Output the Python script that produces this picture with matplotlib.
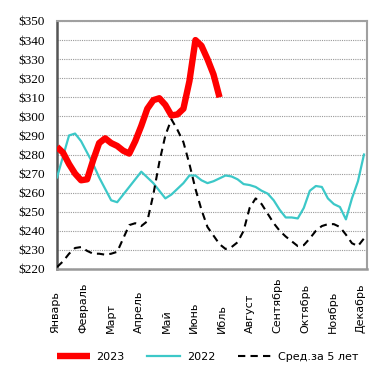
import numpy as np
import matplotlib
matplotlib.use('Agg')
import matplotlib.pyplot as plt
import matplotlib.transforms as mtransforms

# недели года (0..51)
weeks = np.arange(52)

# 2023 - до июля
y2023 = [284, 281, 275, 270, 266.5, 267, 277, 286, 288.5, 286,
         284.5, 282, 280.5, 287, 295, 304, 308.5, 309.5, 306, 300.5,
         301, 304, 318.5, 340, 337, 330, 322, 310]

y2022 = [268, 279, 290, 291, 287, 281, 275, 268, 262, 256,
         255, 259, 263, 267, 271, 268, 265, 261, 257, 259,
         262, 265, 269, 269, 266.5, 265, 266, 267.5, 269, 268.5,
         267, 264.5, 264, 263, 261, 259.5, 256, 251, 247, 247,
         246.5, 252, 261, 263.5, 263, 257, 254, 252.5, 246, 257,
         266, 280]

avg5 = [221, 224, 228, 231, 231.5, 229.5, 228, 228, 227.5, 228,
        229, 236, 243, 244, 242.5, 245, 259, 276, 290, 298.5,
        293, 286.5, 275, 262, 251, 242, 237.5, 233, 230.5, 231.5,
        234, 240, 252, 257, 254, 249, 244, 240, 237, 234.5,
        232, 232.5, 236, 240, 242.5, 243.5, 243.5, 242, 238, 233.5,
        232, 236]

months = ['Январь', 'Февраль', 'Март', 'Апрель', 'Май', 'Июнь',
          'Ибль', 'Август', 'Сентябрь', 'Октябрь', 'Ноябрь', 'Декабрь']
yticks = list(range(220, 351, 10))

fig = plt.figure(figsize=(3.91, 3.83), dpi=100)
ax = fig.add_axes([0.1458, 0.2977, 0.7928, 0.6475])

ax.plot(weeks[:len(y2023)], y2023, color='#ff0000', lw=4.6,
        solid_capstyle='butt', solid_joinstyle='round', label='2023', zorder=4)
ax.plot(weeks, y2022, color='#3cc8c8', lw=1.6, label='2022', zorder=3)
ax.plot(weeks, avg5, color='black', lw=1.5, ls=(0, (3.5, 2.5)),
        label='Сред.за 5 лет', zorder=3)

ax.set_xlim(0, 51.5)
ax.set_ylim(220, 350)
ax.set_yticks(yticks)
ax.set_yticklabels(['$%d' % v for v in yticks],
                   fontfamily='Liberation Serif', fontsize=9.5)
ax.tick_params(axis='y', length=0, pad=9)
ax.set_xticks([])
ax.yaxis.grid(True, color='#999999', ls=(0, (1, 1)), lw=0.8)
ax.set_axisbelow(True)

for side in ['top', 'right']:
    ax.spines[side].set_color('#a0a0a0')
    ax.spines[side].set_linewidth(1.5)
ax.spines['left'].set_color('#555555')
ax.spines['left'].set_linewidth(1.8)
ax.spines['bottom'].set_color('#999999')
ax.spines['bottom'].set_linewidth(1.8)

# подписи месяцев
trans = mtransforms.blended_transform_factory(ax.transData, ax.transAxes)
pos = np.linspace(-0.3, 50.5, len(months))
for x, m in zip(pos, months):
    ax.text(x, -0.258, m, transform=trans, rotation=90, ha='center',
            va='bottom', fontsize=8, fontfamily='DejaVu Sans', clip_on=False)

fig.legend(loc='center', bbox_to_anchor=(0.53, 0.068), ncol=3,
           frameon=False, fontsize=8, handlelength=3.0, columnspacing=2.0,
           handletextpad=0.6)

fig.savefig('out.png', dpi=100)
